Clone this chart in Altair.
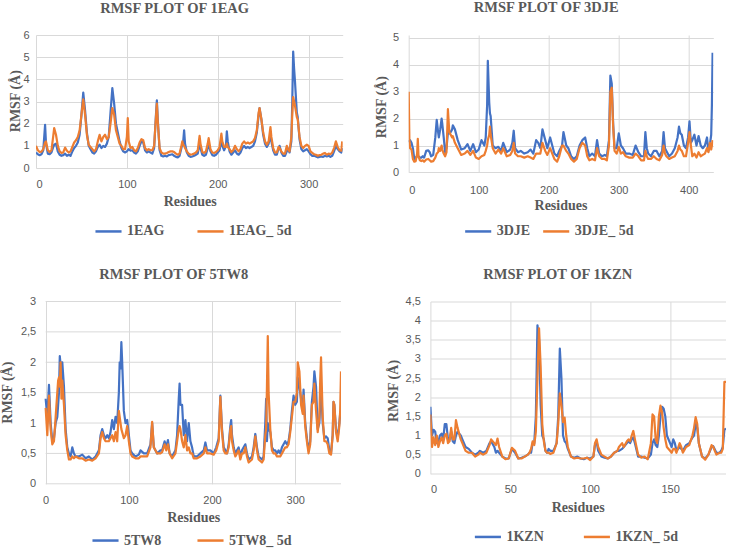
import altair as alt
import pandas as pd

BLUE = "#4472C4"
ORANGE = "#ED7D31"
GREY = "#595959"
GRID = "#D9D9D9"
SERIF = "Liberation Serif"
SANS = "Liberation Sans"

# ---------------- 1EAG ----------------
res_1eag = [0, 2, 4, 6, 8, 10, 11, 13, 15, 17, 19, 20, 22, 24, 26, 28, 30, 32, 34, 36,
            38, 40, 42, 44, 46, 48, 50, 52, 54, 56, 58, 60, 62, 64, 66, 68, 70, 72, 74, 76,
            78, 80, 82, 84, 86, 88, 90, 92, 94, 96, 98, 100, 101, 102, 104, 106, 108, 110, 112, 114,
            116, 118, 120, 122, 124, 126, 128, 130, 132, 133, 134, 136, 138, 140, 142, 144, 146, 148, 150, 152,
            154, 156, 158, 160, 161, 162, 163, 164, 166, 168, 170, 172, 174, 176, 178, 180, 181, 183, 185, 187,
            189, 190, 192, 194, 196, 198, 200, 202, 204, 205, 207, 209, 210, 211, 213, 215, 217, 219, 221, 223,
            225, 227, 229, 231, 233, 235, 237, 239, 241, 243, 245, 246, 248, 250, 252, 254, 256, 258, 259, 261,
            263, 265, 267, 268, 270, 272, 274, 276, 277, 279, 281, 282, 283, 284, 285, 287, 288, 290, 292, 294,
            296, 298, 300, 302, 304, 306, 308, 310, 312, 314, 316, 318, 320, 322, 324, 326, 328, 330, 332, 334,
            336, 337]
rmsf_1eag = [0.70, 0.62, 0.58, 0.62, 0.80, 1.95, 1.10, 0.65, 0.62, 0.70, 0.95, 1.05, 1.10, 0.75, 0.60, 0.55, 0.58, 0.65, 0.55, 0.60,
             0.55, 0.75, 0.90, 1.00, 1.15, 1.50, 2.40, 3.40, 2.60, 1.60, 1.00, 0.85, 0.70, 0.65, 0.75, 0.95, 1.05, 0.90, 1.00, 0.95,
             1.10, 1.40, 2.50, 3.60, 2.90, 2.00, 1.60, 1.20, 0.90, 0.75, 0.70, 0.75, 0.80, 0.85, 0.78, 0.80, 0.70, 0.65, 0.75, 1.00,
             1.20, 1.15, 0.80, 0.70, 0.75, 0.70, 0.65, 0.90, 2.40, 3.05, 2.20, 0.80, 0.55, 0.52, 0.55, 0.52, 0.58, 0.60, 0.62, 0.55,
             0.50, 0.48, 0.55, 0.90, 1.10, 1.20, 1.70, 1.10, 0.70, 0.55, 0.50, 0.52, 0.55, 0.60, 0.65, 1.10, 0.90, 0.60, 0.55, 0.60,
             0.90, 1.10, 0.75, 0.58, 0.55, 0.60, 0.70, 0.80, 1.30, 1.00, 0.80, 1.00, 1.65, 1.20, 0.75, 0.60, 0.70, 0.80, 0.65, 0.60,
             0.70, 0.90, 1.00, 0.90, 0.95, 0.90, 0.95, 1.00, 1.20, 1.60, 2.40, 2.70, 2.20, 1.50, 1.10, 0.95, 1.10, 1.50, 1.20, 0.80,
             0.60, 0.60, 0.90, 1.00, 0.70, 0.55, 0.55, 0.75, 0.90, 0.70, 1.20, 3.00, 5.25, 4.50, 3.90, 2.50, 2.30, 1.30, 0.85, 0.75,
             0.80, 0.85, 0.75, 0.62, 0.55, 0.55, 0.52, 0.48, 0.50, 0.52, 0.50, 0.55, 0.52, 0.55, 0.50, 0.55, 0.75, 1.00, 0.85, 0.75,
             0.70, 0.90]
rmsf_1eag_5d = [1.00, 0.80, 0.72, 0.74, 0.85, 1.15, 1.20, 0.80, 0.72, 0.80, 1.45, 1.80, 1.50, 1.00, 0.75, 0.68, 0.70, 0.92, 0.78, 0.70,
                0.75, 0.95, 1.15, 1.25, 1.40, 1.70, 2.40, 3.10, 2.40, 1.50, 1.05, 0.95, 0.85, 0.75, 0.85, 1.20, 1.50, 1.20, 1.40, 1.50,
                1.30, 1.40, 2.00, 2.70, 2.40, 1.70, 1.40, 1.10, 1.00, 0.85, 0.85, 1.40, 2.25, 1.20, 0.90, 0.95, 0.80, 0.75, 0.90, 1.15,
                1.30, 1.25, 0.90, 0.80, 0.85, 0.80, 0.80, 1.00, 2.30, 2.90, 2.10, 0.90, 0.70, 0.65, 0.65, 0.68, 0.72, 0.75, 0.75, 0.72,
                0.65, 0.60, 0.65, 1.00, 1.20, 1.05, 1.00, 0.90, 0.75, 0.65, 0.60, 0.62, 0.65, 0.70, 0.80, 1.45, 1.10, 0.72, 0.68, 0.75,
                1.10, 1.35, 0.85, 0.70, 0.68, 0.72, 0.80, 0.95, 1.55, 1.20, 0.95, 0.95, 1.10, 0.95, 0.85, 0.72, 0.80, 1.00, 0.85, 0.75,
                0.85, 1.10, 1.20, 1.10, 1.15, 1.10, 1.15, 1.20, 1.35, 1.70, 2.50, 2.70, 2.20, 1.60, 1.20, 1.05, 1.20, 1.85, 1.40, 0.90,
                0.70, 0.70, 0.95, 0.90, 0.75, 0.65, 0.65, 1.00, 0.85, 0.75, 1.40, 2.40, 3.20, 3.00, 2.80, 2.30, 2.20, 1.40, 1.00, 0.90,
                1.00, 1.05, 1.00, 0.75, 0.68, 0.62, 0.60, 0.55, 0.58, 0.60, 0.65, 0.68, 0.60, 0.65, 0.62, 0.70, 0.90, 1.20, 0.95, 0.80,
                0.78, 1.20]

# ---------------- 3DJE ----------------
res_3dje = [0, 1, 2, 4, 6, 8, 10, 12, 13, 14, 16, 18, 20, 22, 25, 28, 30, 32, 35, 38,
            40, 42, 43, 45, 47, 48, 50, 52, 54, 56, 58, 60, 62, 63, 66, 70, 75, 80, 84, 88,
            92, 96, 100, 104, 108, 110, 112, 113, 115, 116, 117, 120, 124, 128, 132, 135, 140, 145, 148, 150,
            152, 156, 160, 165, 170, 174, 178, 182, 185, 188, 191, 195, 198, 202, 205, 208, 212, 215, 219, 221,
            225, 228, 232, 236, 240, 244, 248, 252, 255, 258, 262, 266, 269, 272, 276, 280, 283, 286, 288, 290,
            292, 294, 297, 300, 303, 306, 310, 315, 320, 324, 328, 332, 336, 338, 340, 342, 346, 350, 354, 358,
            362, 364, 366, 368, 372, 376, 380, 384, 386, 388, 390, 393, 396, 399, 401, 403, 405, 408, 411, 414,
            417, 420, 423, 426, 428, 430, 432, 433, 434]
rmsf_3dje = [1.20, 1.15, 1.20, 1.10, 0.90, 0.50, 0.55, 0.60, 0.62, 0.60, 0.55, 0.55, 0.60, 0.55, 0.80, 0.82, 0.75, 0.60, 0.65, 1.30,
             1.95, 1.50, 1.30, 1.60, 2.00, 1.80, 1.30, 0.75, 0.90, 1.50, 1.45, 1.50, 1.60, 1.75, 1.60, 1.20, 0.85, 0.90, 1.05, 0.80,
             1.05, 0.75, 0.85, 1.20, 1.00, 1.30, 2.50, 4.15, 2.60, 2.20, 2.10, 1.00, 0.90, 0.95, 0.80, 1.10, 0.75, 0.85, 1.10, 1.55,
             0.90, 0.75, 0.80, 0.70, 0.75, 0.85, 0.70, 1.20, 1.10, 0.90, 1.60, 1.20, 0.90, 1.30, 1.00, 0.70, 0.60, 0.80, 1.00, 1.50,
             1.00, 0.90, 0.60, 0.50, 0.60, 1.00, 1.20, 1.30, 0.90, 0.60, 0.70, 0.60, 1.20, 0.70, 0.60, 0.65, 0.60, 1.20, 3.60, 3.30,
             1.80, 0.90, 0.90, 1.45, 1.00, 0.90, 0.70, 0.70, 0.65, 1.00, 0.75, 0.60, 0.60, 1.50, 0.90, 0.70, 0.60, 0.80, 0.80, 0.60,
             0.80, 1.50, 0.90, 0.80, 0.60, 0.70, 0.90, 1.30, 1.70, 1.45, 1.40, 1.00, 0.90, 1.30, 1.90, 1.10, 1.20, 1.40, 1.00, 1.35,
             1.00, 0.90, 1.00, 1.30, 0.80, 1.00, 1.40, 2.50, 4.45]
rmsf_3dje_5d = [3.00, 1.20, 0.90, 0.85, 0.50, 0.40, 0.42, 0.70, 1.25, 0.60, 0.45, 0.42, 0.45, 0.40, 0.48, 0.50, 0.45, 0.40, 0.42, 0.55,
                0.70, 0.75, 0.90, 0.80, 1.00, 0.85, 0.70, 0.60, 0.75, 2.35, 1.50, 1.40, 1.30, 1.35, 1.10, 0.90, 0.65, 0.70, 0.80, 0.65,
                0.80, 0.55, 0.50, 0.60, 0.65, 0.80, 1.00, 1.20, 1.40, 1.70, 1.40, 0.90, 0.70, 0.85, 0.70, 0.90, 0.60, 0.65, 0.80, 1.10,
                0.70, 0.60, 0.60, 0.55, 0.60, 0.55, 0.50, 0.70, 0.70, 0.70, 1.10, 0.80, 0.65, 0.90, 0.70, 0.50, 0.40, 0.60, 1.00, 1.00,
                0.80, 0.70, 0.50, 0.40, 0.50, 0.90, 1.10, 1.00, 0.60, 0.45, 0.50, 0.45, 0.90, 0.60, 0.50, 0.50, 0.45, 1.00, 3.00, 3.15,
                1.70, 0.80, 0.70, 0.95, 0.70, 0.75, 0.60, 0.55, 0.55, 0.70, 0.60, 0.45, 0.45, 0.80, 0.60, 0.50, 0.50, 0.60, 0.50, 0.45,
                0.65, 1.00, 0.70, 0.60, 0.50, 0.55, 0.60, 0.80, 1.00, 0.85, 0.80, 0.60, 0.60, 1.10, 1.50, 1.00, 0.60, 0.70, 0.55, 0.75,
                0.60, 0.65, 0.70, 0.90, 0.75, 1.10, 0.85, 1.00, 1.20]

# ---------------- 5TW8 ----------------
res_5tw8 = [0, 2, 4, 6, 8, 10, 12, 14, 15, 16, 17, 18, 19, 20, 22, 24, 26, 28, 30, 32,
            34, 36, 40, 44, 48, 52, 56, 60, 64, 66, 68, 70, 72, 74, 76, 78, 80, 82, 84, 86,
            88, 89, 90, 91, 92, 94, 96, 98, 100, 102, 104, 108, 112, 114, 118, 122, 126, 128, 130, 134,
            138, 140, 143, 145, 147, 149, 152, 156, 158, 160, 161, 162, 164, 166, 168, 170, 172, 174, 176, 178,
            182, 186, 190, 192, 194, 198, 202, 205, 208, 210, 212, 214, 216, 218, 220, 222, 223, 224, 226, 228,
            230, 232, 234, 236, 238, 240, 242, 244, 248, 250, 252, 254, 256, 260, 262, 264, 265, 266, 267, 268,
            270, 272, 274, 276, 278, 280, 282, 284, 286, 288, 290, 292, 294, 296, 298, 300, 302, 303, 305, 307,
            309, 310, 312, 314, 316, 318, 320, 322, 323, 325, 327, 329, 330, 331, 333, 335, 337, 339, 341, 343,
            345, 346, 347, 349, 351, 353, 354, 355]
rmsf_5tw8 = [1.40, 1.10, 1.63, 1.00, 0.70, 0.75, 1.00, 1.10, 1.30, 1.50, 2.10, 1.95, 1.60, 2.00, 1.60, 0.90, 0.60, 0.50, 0.45, 0.60,
             0.50, 0.45, 0.45, 0.48, 0.42, 0.45, 0.40, 0.45, 0.55, 0.80, 0.90, 0.80, 0.75, 0.80, 0.75, 0.85, 1.05, 0.90, 1.10, 1.00,
             1.50, 2.00, 1.90, 2.33, 2.00, 1.20, 1.00, 1.05, 0.80, 0.55, 0.50, 0.45, 0.48, 0.55, 0.50, 0.50, 0.65, 1.00, 0.60, 0.50,
             0.55, 0.55, 0.70, 0.60, 0.72, 0.50, 0.45, 0.55, 0.80, 1.40, 1.65, 1.30, 1.30, 0.80, 1.05, 0.70, 1.00, 0.70, 0.60, 0.45,
             0.45, 0.50, 0.55, 0.68, 0.55, 0.55, 0.50, 0.60, 0.75, 1.45, 0.90, 0.60, 0.55, 0.50, 0.65, 0.95, 1.05, 0.80, 0.60, 0.50,
             0.55, 0.60, 0.45, 0.55, 0.60, 0.65, 0.50, 0.40, 0.45, 0.60, 0.82, 0.60, 0.45, 0.40, 0.45, 1.00, 1.40, 0.70, 1.00, 0.90,
             0.85, 0.60, 0.55, 0.55, 0.50, 0.55, 0.50, 0.60, 0.65, 0.70, 0.65, 0.70, 0.90, 1.20, 1.45, 1.30, 1.35, 1.75, 1.60, 1.40,
             1.20, 1.55, 1.00, 0.75, 0.55, 0.70, 1.35, 1.60, 1.85, 1.60, 0.90, 1.00, 1.30, 1.60, 1.00, 0.75, 0.78, 0.75, 0.55, 0.50,
             0.80, 1.35, 1.30, 0.90, 0.75, 1.00, 1.15, 1.20]
rmsf_5tw8_5d = [1.25, 0.80, 1.45, 0.90, 0.65, 0.70, 1.10, 1.50, 1.70, 1.75, 1.60, 2.00, 1.40, 1.70, 1.30, 0.80, 0.55, 0.40, 0.40, 0.45,
                0.42, 0.45, 0.42, 0.42, 0.38, 0.40, 0.38, 0.42, 0.50, 0.75, 0.85, 0.75, 0.70, 0.70, 0.70, 0.75, 0.80, 0.70, 0.85, 0.70,
                1.20, 1.10, 1.00, 0.90, 0.85, 0.75, 0.80, 0.95, 0.70, 0.50, 0.45, 0.42, 0.42, 0.45, 0.45, 0.45, 0.60, 1.02, 0.60, 0.50,
                0.50, 0.52, 0.65, 0.55, 0.65, 0.50, 0.42, 0.50, 0.70, 0.90, 0.95, 0.90, 0.70, 0.60, 0.80, 0.55, 0.60, 0.50, 0.50, 0.42,
                0.42, 0.45, 0.50, 0.60, 0.50, 0.50, 0.48, 0.55, 0.70, 1.43, 0.85, 0.55, 0.50, 0.50, 0.60, 0.90, 0.95, 0.70, 0.55, 0.45,
                0.50, 0.55, 0.40, 0.50, 0.50, 0.60, 0.45, 0.35, 0.40, 0.55, 0.78, 0.55, 0.40, 0.35, 0.40, 0.80, 0.90, 1.60, 2.43, 1.50,
                0.90, 0.55, 0.50, 0.50, 0.45, 0.45, 0.45, 0.50, 0.55, 0.60, 0.60, 0.65, 0.85, 1.10, 1.35, 1.35, 1.50, 2.00, 1.85, 1.30,
                1.15, 1.45, 0.95, 0.70, 0.50, 0.65, 1.30, 1.35, 1.65, 1.20, 0.85, 1.10, 1.70, 2.08, 1.10, 0.70, 0.70, 0.65, 0.50, 0.48,
                0.80, 1.35, 1.30, 0.85, 0.70, 0.95, 1.20, 1.85]

# ---------------- 1KZN ----------------
res_1kzn = [0, 1, 2, 3, 4, 5, 6, 7, 8, 9, 10, 11, 12, 13, 14, 15, 16, 17, 19, 20,
            22, 24, 26, 28, 30, 31, 33, 35, 37, 38, 40, 41, 42, 43, 45, 47, 49, 51, 53, 55,
            57, 59, 61, 62, 63, 64, 65, 66, 67, 68, 69, 70, 71, 72, 73, 74, 75, 77, 79, 80,
            81, 82, 83, 84, 85, 86, 88, 90, 92, 94, 96, 98, 100, 102, 103, 104, 105, 107, 109, 111,
            113, 115, 117, 118, 120, 121, 123, 124, 125, 126, 127, 128, 130, 132, 134, 136, 138, 139, 140, 141,
            142, 143, 144, 145, 146, 147, 148, 150, 151, 152, 153, 154, 156, 157, 158, 160, 162, 164, 165, 166,
            167, 168, 170, 172, 174, 176, 177, 179, 181, 182, 183, 184, 185]
rmsf_1kzn = [1.75, 1.00, 1.15, 1.10, 0.80, 0.85, 1.00, 1.05, 0.90, 1.30, 1.30, 0.90, 0.90, 1.10, 0.85, 0.80, 1.00, 1.10, 1.00, 0.90,
             0.70, 0.65, 0.55, 0.50, 0.55, 0.60, 0.55, 0.60, 0.80, 0.85, 0.70, 0.55, 0.60, 0.55, 0.45, 0.40, 0.40, 0.65, 0.55, 0.40,
             0.42, 0.45, 0.50, 0.55, 0.55, 0.80, 0.80, 1.50, 3.88, 3.50, 1.80, 1.00, 0.90, 0.60, 0.55, 0.65, 0.60, 0.60, 0.80, 1.50,
             3.27, 2.50, 1.00, 0.85, 0.80, 0.65, 0.45, 0.42, 0.45, 0.40, 0.38, 0.42, 0.40, 0.45, 0.75, 0.85, 0.60, 0.45, 0.42, 0.40,
             0.45, 0.55, 0.60, 0.60, 0.65, 0.70, 0.80, 0.85, 0.80, 0.90, 0.95, 0.80, 0.45, 0.45, 0.42, 0.40, 0.50, 0.80, 0.90, 0.75,
             0.70, 1.00, 1.50, 1.75, 1.70, 1.50, 1.00, 0.80, 0.70, 0.90, 0.80, 0.60, 0.70, 0.65, 0.60, 0.75, 0.80, 0.95, 1.00, 1.30,
             1.20, 0.80, 0.45, 0.40, 0.50, 0.70, 0.72, 0.55, 0.55, 0.60, 0.70, 1.15, 1.18]
rmsf_1kzn_5d = [1.55, 0.70, 0.95, 0.75, 1.00, 0.70, 0.85, 0.95, 0.80, 1.00, 1.05, 0.80, 0.85, 1.20, 0.90, 0.90, 1.40, 1.20, 0.90, 0.80,
                0.60, 0.55, 0.55, 0.45, 0.50, 0.55, 0.50, 0.55, 0.75, 0.90, 0.80, 0.75, 0.92, 0.70, 0.45, 0.38, 0.40, 0.68, 0.60, 0.40,
                0.40, 0.45, 0.50, 0.55, 0.65, 0.85, 0.75, 1.10, 2.50, 3.80, 2.80, 1.30, 0.85, 0.60, 0.55, 0.55, 0.52, 0.55, 0.80, 1.30,
                2.10, 1.80, 1.35, 1.47, 1.00, 0.70, 0.45, 0.40, 0.42, 0.40, 0.40, 0.42, 0.36, 0.45, 0.80, 0.90, 0.70, 0.50, 0.45, 0.40,
                0.45, 0.55, 0.60, 0.70, 0.80, 0.70, 0.85, 0.90, 0.85, 1.00, 1.12, 0.90, 0.50, 0.42, 0.45, 0.38, 0.80, 1.55, 1.50, 0.90,
                0.80, 1.50, 1.78, 1.60, 1.20, 0.90, 0.70, 0.60, 0.55, 0.65, 0.65, 0.55, 0.80, 0.70, 0.55, 0.70, 0.75, 1.00, 1.20, 1.48,
                1.30, 0.80, 0.45, 0.37, 0.50, 0.75, 0.70, 0.50, 0.55, 0.55, 0.65, 2.40, 2.40]

COMMA_LABELS = "replace('' + datum.value, '.', ',')"


def panel(name, residues, apo, holo, *, width, height, x_domain, y_domain, x_ticks, y_ticks,
          title_dx, title_offset, x_title_x, x_title_y, x_label_pad, y_title_x, y_title_y,
          y_label_pad, legend_x, legend_y, legend_gap, y_axis_offset=0, grid_end=None):
    labels = [name, name + "_ 5d"]
    n = len(residues)
    df = pd.DataFrame({
        "residue": list(residues) * 2,
        "rmsf": list(apo) + list(holo),
        "series": [labels[0]] * n + [labels[1]] * n,
    })
    x = alt.X("residue:Q",
              scale=alt.Scale(domain=x_domain, nice=False, zero=False),
              axis=alt.Axis(values=x_ticks, title="Residues", grid=True,
                            labelPadding=x_label_pad, titleX=x_title_x, titleY=x_title_y,
                            titleAlign="center", titleBaseline="middle"))
    y = alt.Y("rmsf:Q",
              scale=alt.Scale(domain=y_domain, nice=False, zero=True),
              axis=alt.Axis(values=y_ticks, title="RMSF (Å)", grid=grid_end is None,
                            labelExpr=COMMA_LABELS, labelPadding=y_label_pad,
                            offset=y_axis_offset, titleX=y_title_x, titleY=y_title_y,
                            titleAlign="center", titleBaseline="middle"))
    color = alt.Color("series:N",
                      scale=alt.Scale(domain=labels, range=[BLUE, ORANGE]),
                      legend=alt.Legend(orient="none", legendX=legend_x, legendY=legend_y,
                                        direction="horizontal", title=None,
                                        symbolType="stroke", symbolSize=680,
                                        symbolStrokeWidth=2.5, labelFont=SERIF,
                                        labelFontSize=14, labelFontWeight="bold",
                                        labelColor=GREY, labelOffset=4,
                                        columnPadding=legend_gap, padding=0))
    base = alt.Chart(df).mark_line(strokeWidth=2.2, strokeJoin="round", clip=True)
    apo_line = base.encode(x=x, y=y, color=color).transform_filter(alt.datum.series == labels[0])
    holo_line = base.encode(x=x, y=y, color=color).transform_filter(alt.datum.series == labels[1])
    layers = [apo_line, holo_line]
    if grid_end is not None:
        grid = alt.Chart(pd.DataFrame({"rmsf": y_ticks})).mark_rule(
            color=GRID, strokeWidth=1).encode(x=alt.datum(0), x2=alt.datum(grid_end), y=y)
        layers = [grid] + layers
    return alt.layer(*layers).properties(
        width=width, height=height,
        title=alt.TitleParams(text=f"RMSF PLOT OF {name}", font=SERIF, fontSize=14.5,
                              fontWeight="bold", color=GREY, anchor="middle", frame="group",
                              dx=title_dx, offset=title_offset),
    )


p1 = panel("1EAG", res_1eag, rmsf_1eag, rmsf_1eag_5d,
           width=306.7, height=133, x_domain=[0, 337.5], y_domain=[0, 6],
           x_ticks=[0, 100, 200, 300], y_ticks=[0, 1, 2, 3, 4, 5, 6],
           title_dx=-14.7, title_offset=13, x_title_x=153.7, x_title_y=33, x_label_pad=10,
           y_title_x=-21, y_title_y=65.7, y_label_pad=7,
           legend_x=58, legend_y=181.7, legend_gap=27)

p2 = panel("3DJE", res_3dje, rmsf_3dje, rmsf_3dje_5d,
           width=304.6, height=137.4, x_domain=[0, 435], y_domain=[0, 5.11],
           x_ticks=[0, 100, 200, 300, 400], y_ticks=[0, 1, 2, 3, 4, 5],
           title_dx=-14.7, title_offset=16, x_title_x=151.8, x_title_y=32.6, x_label_pad=12,
           y_title_x=-27.7, y_title_y=71.7, y_label_pad=10,
           legend_x=55, legend_y=181.7, legend_gap=7)

p3 = panel("5TW8", res_5tw8, rmsf_5tw8, rmsf_5tw8_5d,
           width=305, height=182.3, x_domain=[-11.6, 355], y_domain=[0, 3],
           x_ticks=[0, 100, 200, 300], y_ticks=[0, 0.5, 1, 1.5, 2, 2.5, 3],
           title_dx=-14.8, title_offset=13, x_title_x=157.2, x_title_y=34, x_label_pad=11,
           y_title_x=-38, y_title_y=90.7, y_label_pad=10,
           legend_x=55, legend_y=224.3, legend_gap=30,
           y_axis_offset=-9.7, grid_end=355)

p4 = panel("1KZN", res_1kzn, rmsf_1kzn, rmsf_1kzn_5d,
           width=295.6, height=172.3, x_domain=[0, 185], y_domain=[0, 4.5],
           x_ticks=[0, 50, 100, 150], y_ticks=[0, 0.5, 1, 1.5, 2, 2.5, 3, 3.5, 4, 4.5],
           title_dx=-20.5, title_offset=13, x_title_x=147.3, x_title_y=34, x_label_pad=10,
           y_title_x=-37, y_title_y=89, y_label_pad=10,
           legend_x=43, legend_y=220.7, legend_gap=34)

top = alt.hconcat(p1, p2, spacing=65.7, bounds="flush").resolve_scale(
    color="independent").resolve_legend(color="independent")
bottom = alt.hconcat(p3, p4, spacing=89.4, bounds="flush").resolve_scale(
    color="independent").resolve_legend(color="independent")

chart = (
    alt.vconcat(top, bottom, spacing=266.5, bounds="flush")
    .resolve_scale(color="independent")
    .resolve_legend(color="independent")
    .properties(
        padding={"left": 0, "top": 0, "right": 0, "bottom": 0},
        background="white",
    )
    .configure_axis(
        domain=False, ticks=False, gridColor=GRID, gridWidth=1,
        labelFont=SANS, labelFontSize=11, labelColor=GREY,
        titleFont=SERIF, titleFontSize=14, titleFontWeight="bold", titleColor=GREY,
    )
    .configure_view(strokeWidth=0)
)

chart.save("out.html", embed_options={"renderer": "svg", "actions": False})
